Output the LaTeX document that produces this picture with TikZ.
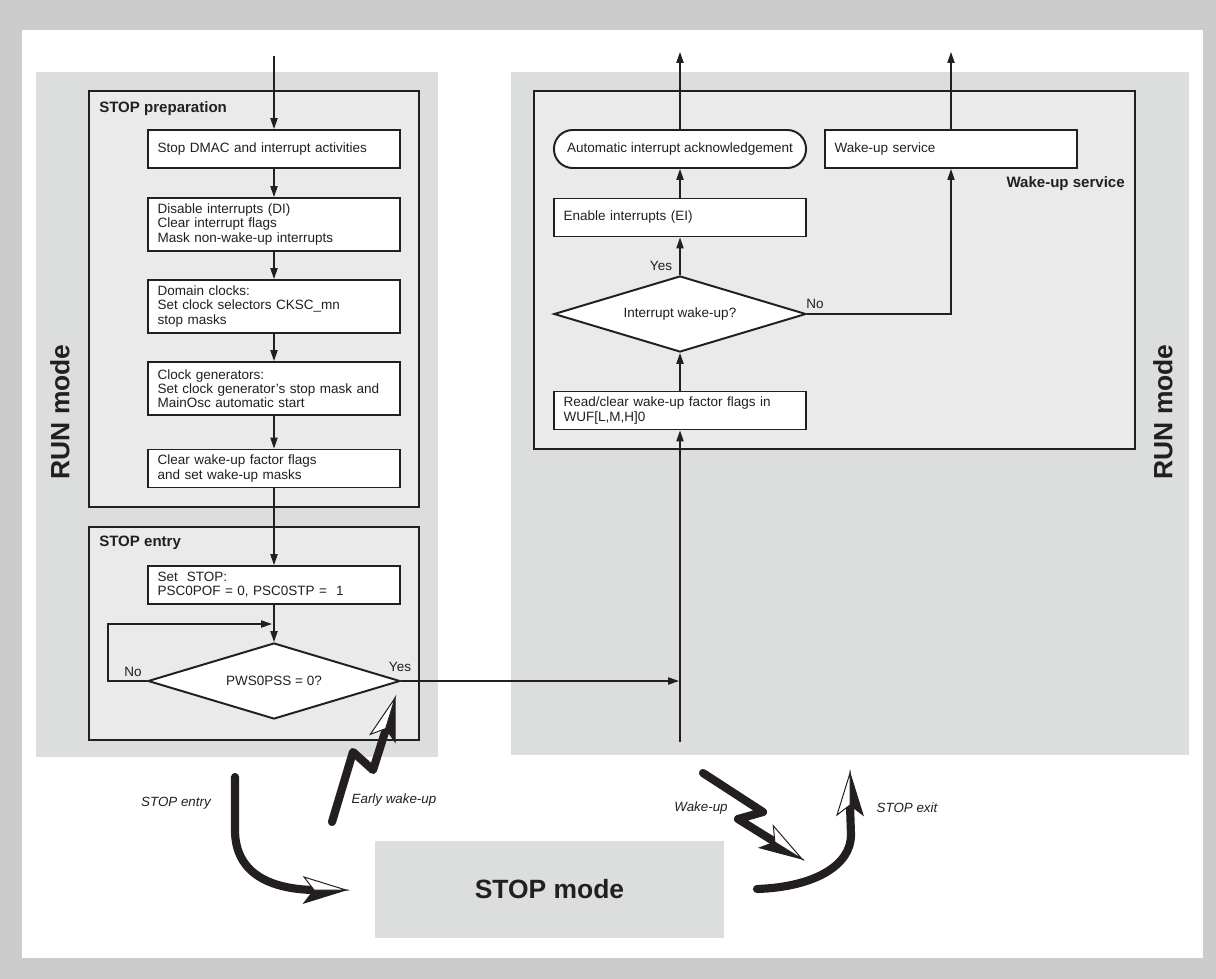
\documentclass[tikz,border=0pt]{standalone}
\usepackage{fontspec}
\setmainfont{Liberation Sans}
\usetikzlibrary{arrows.meta,shapes.geometric,positioning}
\definecolor{ink}{HTML}{231F20}
\definecolor{outergray}{HTML}{CCCCCC}
\definecolor{panelgray}{HTML}{DCDDDD}
\definecolor{groupgray}{HTML}{EAEAEB}
\newcommand\splithead[2]{% tip, angle
  \begin{scope}[shift={(#1)},rotate=#2]
    \filldraw[fill=ink,draw=ink,line width=.7pt] (0,0) -- (-42,13) -- (-32,0) -- cycle;
    \filldraw[fill=white,draw=ink,line width=.7pt] (0,0) -- (-42,-13) -- (-32,0) -- cycle;
  \end{scope}}

\begin{document}
\begin{tikzpicture}[x=.025cm,y=-.025cm,
  every node/.style={text=ink,font=\fontsize{9.6}{10}\selectfont},
  stepbox/.style={draw=ink,fill=white,line width=1.4pt,minimum width=6.3cm,
    minimum height=.95cm,text width=5.82cm,inner xsep=.24cm,inner ysep=2pt,align=left},
  tallbox/.style={stepbox,minimum height=1.325cm},
  ackbox/.style={draw=ink,fill=white,line width=1.4pt,minimum width=6.3cm,
    minimum height=.95cm,inner xsep=0pt,rounded corners=4.7mm},
  decision/.style={diamond,aspect=3.3,draw=ink,fill=white,line width=1.4pt,inner sep=0pt,
    minimum width=6.3cm,minimum height=1.9cm},
  groupbox/.style={draw=ink,fill=groupgray,line width=.9pt,inner sep=0pt},
  grouptitle/.style={font=\bfseries\fontsize{10.7}{12}\selectfont,inner sep=0pt},
  modetitle/.style={font=\bfseries\fontsize{18.8}{20}\selectfont,inner sep=0pt},
  answer/.style={inner sep=0pt},
  tag/.style={font=\itshape\fontsize{9.5}{10}\selectfont,inner sep=0pt},
  flow/.style={draw=ink,line width=.8pt,-{Triangle[length=2.7mm,width=1.8mm]}},
  fat/.style={draw=ink,line width=5.8pt,line cap=round,line join=round}]
  % frame and mode panels
  \fill[outergray] (0,0) rectangle (1216,979);
  \useasboundingbox (0,0) rectangle (1216,979);
  \fill[white] (22,30) rectangle (1203,958);
  \fill[panelgray] (36,72) rectangle (438,757);
  \fill[panelgray] (511,72) rectangle (1189,755);
  \node[modetitle,rotate=90] (runleft) at (60,412) {RUN mode};
  \node[modetitle,rotate=90] (runright) at (1163,412) {RUN mode};

  % groups
  \node[groupbox,minimum width=8.25cm,minimum height=10.4cm] (prep) at (254,299) {};
  \node[groupbox,minimum width=8.25cm,minimum height=5.325cm] (entry) at (254,633.5) {};
  \node[groupbox,minimum width=15.025cm,minimum height=8.95cm] (wus) at (834.5,270) {};
  \node[grouptitle,anchor=base west] (preptitle) at (99,112) {STOP preparation};
  \node[grouptitle,anchor=base west] (entrytitle) at (99,546) {STOP entry};
  \node[grouptitle,anchor=base east] (wustitle) at (1125,187) {Wake-up service};

  % STOP preparation and entry
  \coordinate (in) at (274,56);
  \node[stepbox] (dmac) at (274,149) {Stop DMAC and interrupt activities};
  \node[tallbox] (di) at (274,224.5) {Disable interrupts (DI)\\Clear interrupt flags\\Mask non-wake-up interrupts};
  \node[tallbox] (dom) at (274,306.5) {Domain clocks:\\Set clock selectors CKSC\_mn\\stop masks};
  \node[tallbox] (cg) at (274,388.5) {Clock generators:\\Set clock generator's stop mask and\\MainOsc automatic start};
  \node[stepbox] (wuf) at (274,468.5) {Clear wake-up factor flags\\and set wake-up masks};
  \node[stepbox] (setstop) at (274,585) {Set~ STOP:\\PSC0POF = 0, PSC0STP = ~1};
  \node[decision] (pss) at (274,681) {PWS0PSS = 0?};
  \coordinate (loopin) at (272,624);
  \coordinate (yesin) at (679,681);

  % wake-up service
  \coordinate (rin) at (680,742);
  \node[stepbox] (rdwuf) at (680,410.5) {Read/clear wake-up factor flags in\\WUF[L,M,H]0};
  \node[decision] (intwu) at (680,314) {Interrupt wake-up?};
  \node[stepbox] (ei) at (680,217.5) {Enable interrupts (EI)};
  \node[ackbox] (ack) at (680,149) {Automatic interrupt acknowledgement};
  \node[stepbox] (wusvc) at (951,149) {Wake-up service};
  \coordinate (out1) at (680,52);
  \coordinate (out2) at (951,52);

  \node[answer] (pssno) at (133,672) {No};
  \node[answer] (pssyes) at (400,667) {Yes};
  \node[answer] (intyes) at (661,266) {Yes};
  \node[answer] (intno) at (815,304) {No};

  \draw[flow] (in) -- (dmac);
  \draw[flow] (dmac) -- (di);
  \draw[flow] (di) -- (dom);
  \draw[flow] (dom) -- (cg);
  \draw[flow] (cg) -- (wuf);
  \draw[flow] (wuf) -- (setstop);
  \draw[flow] (setstop) -- (pss);
  \draw[flow] (pss.west) -- ++(-39,0) |- (loopin);
  \draw[flow] (pss.east) -- (yesin);
  \draw[flow] (rin) -- (rdwuf);
  \draw[flow] (rdwuf) -- (intwu);
  \draw[flow] (intwu) -- (ei);
  \draw[flow] (ei) -- (ack);
  \draw[flow] (ack) -- (out1);
  \draw[flow] (intwu.east) -| (wusvc.south);
  \draw[flow] (wusvc) -- (out2);

  % STOP mode and transitions
  \node[modetitle,fill=panelgray,minimum width=8.725cm,minimum height=2.425cm] (stopmode) at (549.5,889.5) {STOP mode};
  \node[tag] (tagentry) at (176,803) {STOP entry};
  \node[tag] (tagearly) at (394,800) {Early wake-up};
  \node[tag] (tagwake) at (701,808) {Wake-up};
  \node[tag] (tagexit) at (907,808) {STOP exit};

  \draw[fat] (235,777) -- (235,830) .. controls (235,872) and (268,889) .. (314,890);
  \splithead{346,890}{0}
  \draw[fat] (332,822) -- (353,752) -- (373,770) -- (386,729);
  \splithead{395,698}{73}
  \draw[fat] (703,773) -- (763,812) -- (738,819) -- (775,842);
  \splithead{802,859}{-32}
  \draw[fat] (757,889) .. controls (815,887) and (851,865) .. (851,835) -- (850,805);
  \splithead{850,773}{90}
\end{tikzpicture}
\end{document}
